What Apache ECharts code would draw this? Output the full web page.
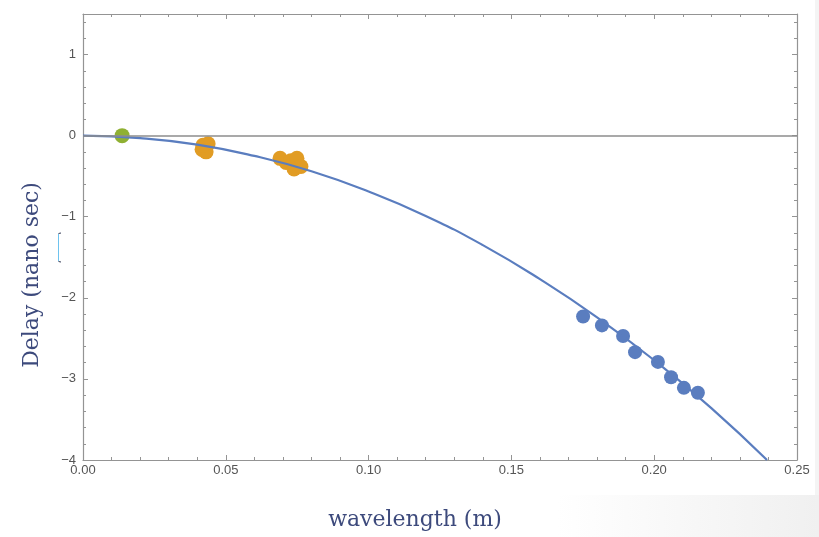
<!DOCTYPE html>
<html>
<head>
<meta charset="utf-8">
<title>Delay vs wavelength</title>
<script src="https://cdn.jsdelivr.net/npm/echarts@6/dist/echarts.min.js"></script>
<style>
  html, body { margin: 0; padding: 0; background: #ffffff; }
  #chart { width: 819px; height: 537px; }
</style>
</head>
<body>
<div id="chart"></div>
<script>
// Measured delays: reference point, two mid-band clusters and the long-wavelength set
const refPoints = [[0.0137, 0.0]];
const midPoints = [
  [0.0417, -0.17], [0.0438, -0.10], [0.0431, -0.20], [0.0420, -0.12],
  [0.0690, -0.28], [0.0711, -0.33], [0.0728, -0.31], [0.0749, -0.28],
  [0.0739, -0.41], [0.0763, -0.38]
];
const longPoints = [
  [0.1751, -2.23], [0.1817, -2.34], [0.1891, -2.47], [0.1933, -2.67],
  [0.2013, -2.79], [0.2059, -2.98], [0.2104, -3.11], [0.2153, -3.17]
];
// Fitted delay curve, sampled along the wavelength axis
const fitWavelength = [0, 0.02, 0.04, 0.06, 0.08, 0.10, 0.12, 0.14, 0.16, 0.18, 0.20, 0.22, 0.2395];
const fitDelay = [0, -0.03, -0.11, -0.25, -0.44, -0.69, -0.99, -1.35, -1.77, -2.24, -2.77, -3.36, -4.0];

const xTicks = { min: 0, max: 0.25, step: 0.05 };
const yTicks = { min: -4, max: 1.5, step: 1 };

const fitCurve = fitWavelength.map((x, i) => [x, fitDelay[i]]);

const frameColor = '#949494';
const labelColor = '#555555';
const titleColor = '#3d4a7c';
const blue = '#5a7dbf';
const orange = '#e19c24';
const green = '#8fb032';

function minus(s) { return String(s).replace('-', '\u2212'); }

const tickStyle = {
  show: true, inside: true, length: 5,
  lineStyle: { color: frameColor, width: 1 }
};
const minorStyle = {
  show: true, splitNumber: 5, length: 3,
  lineStyle: { color: frameColor, width: 1 }
};

const chart = echarts.init(document.getElementById('chart'), null, { renderer: 'canvas' });

chart.setOption({
  animation: false,
  backgroundColor: '#ffffff',
  grid: { left: 83, right: 22, top: 14, bottom: 77, containLabel: false, outerBoundsMode: 'none' },
  xAxis: [
    {
      type: 'value', position: 'bottom',
      min: xTicks.min, max: xTicks.max, interval: xTicks.step,
      axisLine: { show: true, onZero: false, lineStyle: { color: frameColor, width: 1.2 } },
      axisTick: tickStyle, minorTick: minorStyle,
      splitLine: { show: false },
      axisLabel: {
        color: labelColor, fontFamily: 'Liberation Sans', fontSize: 13, margin: 4,
        formatter: v => v.toFixed(2)
      }
    },
    {
      type: 'value', position: 'top',
      min: xTicks.min, max: xTicks.max, interval: xTicks.step,
      axisLine: { show: true, onZero: false, lineStyle: { color: frameColor, width: 1.2 } },
      axisTick: tickStyle, minorTick: minorStyle,
      splitLine: { show: false }, axisLabel: { show: false }
    }
  ],
  yAxis: [
    {
      type: 'value', position: 'left',
      min: yTicks.min, max: yTicks.max, interval: yTicks.step,
      axisLine: { show: true, onZero: false, lineStyle: { color: frameColor, width: 1.2 } },
      axisTick: tickStyle, minorTick: minorStyle,
      splitLine: { show: false },
      axisLabel: {
        color: labelColor, fontFamily: 'Liberation Sans', fontSize: 13, margin: 7,
        formatter: v => (Number.isInteger(v) ? minus(v) : '')
      }
    },
    {
      type: 'value', position: 'right',
      min: yTicks.min, max: yTicks.max, interval: yTicks.step,
      axisLine: { show: true, onZero: false, lineStyle: { color: frameColor, width: 1.2 } },
      axisTick: tickStyle, minorTick: minorStyle,
      splitLine: { show: false }, axisLabel: { show: false }
    }
  ],
  series: [
    {
      type: 'scatter', data: refPoints, symbolSize: 15,
      itemStyle: { color: green, opacity: 1 }, z: 3,
      markLine: {
        silent: true, symbol: 'none', label: { show: false },
        lineStyle: { color: '#8c8c8c', width: 1.5, type: 'solid' },
        data: [{ yAxis: 0 }]
      }
    },
    {
      type: 'scatter', data: midPoints, symbolSize: 15,
      itemStyle: { color: orange, opacity: 1 }, z: 3
    },
    {
      type: 'scatter', data: longPoints, symbolSize: 14,
      itemStyle: { color: blue, opacity: 1 }, z: 3
    },
    {
      type: 'line', data: fitCurve, smooth: 0.5, showSymbol: false,
      lineStyle: { color: blue, width: 2.2 }, z: 4
    }
  ],
  graphic: [
    // slide background around the plot
    {
      type: 'rect', z: -10, silent: true,
      shape: { x: 0, y: 495, width: 819, height: 42 },
      style: {
        fill: new echarts.graphic.LinearGradient(0, 0, 1, 0, [
          { offset: 0, color: 'rgba(240,240,240,0)' },
          { offset: 0.68, color: 'rgba(240,240,240,0)' },
          { offset: 1, color: 'rgba(240,240,240,1)' }
        ])
      }
    },
    {
      type: 'rect', z: -10, silent: true,
      shape: { x: 815, y: 0, width: 4, height: 495 },
      style: { fill: '#f4f4f4' }
    },
    {
      type: 'polyline', silent: true,
      shape: { points: [[58.5, 234], [58.5, 261]] },
      style: { stroke: '#6ec3ef', lineWidth: 1, fill: null }
    },
    {
      type: 'polyline', silent: true,
      shape: { points: [[61, 233], [58.5, 233.5]] },
      style: { stroke: '#333a55', lineWidth: 1, fill: null }
    },
    {
      type: 'polyline', silent: true,
      shape: { points: [[58.5, 261.5], [61, 262]] },
      style: { stroke: '#333a55', lineWidth: 1, fill: null }
    },
    {
      type: 'text', silent: true,
      x: 32, y: 275, rotation: Math.PI / 2,
      style: {
        text: 'Delay (nano sec)', fill: titleColor,
        font: '22px "DejaVu Serif", serif', align: 'center', verticalAlign: 'middle'
      }
    },
    {
      type: 'text', silent: true,
      x: 415, y: 520,
      style: {
        text: 'wavelength (m)', fill: titleColor,
        font: '22px "DejaVu Serif", serif', align: 'center', verticalAlign: 'middle'
      }
    }
  ]
});
</script>
</body>
</html>
